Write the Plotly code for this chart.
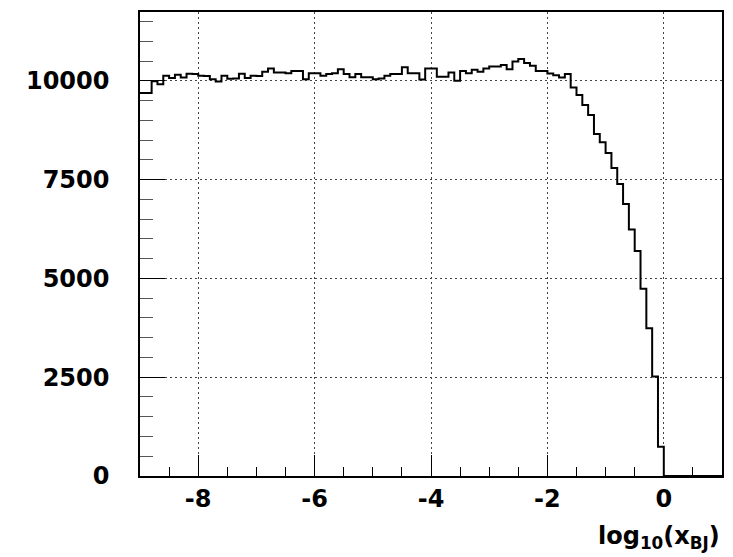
import numpy as np
import plotly.graph_objects as go

# histogram definition
x_min = -9.0
x_max = 1.0
n_bins = 100
counts = [
    9690, 9690, 9990, 9910, 10130, 10070, 10150, 10080, 10180, 10170,
    10130, 10120, 10040, 9980, 10130, 10050, 10060, 10180, 10070, 10130,
    10120, 10230, 10310, 10210, 10210, 10190, 10250, 10250, 10040, 10190,
    10190, 10130, 10170, 10190, 10290, 10170, 10090, 10170, 10090, 10090,
    10040, 10060, 10130, 10170, 10170, 10340, 10190, 10190, 10030, 10310,
    10310, 10100, 10100, 10210, 10000, 10250, 10190, 10280, 10230, 10310,
    10360, 10360, 10400, 10290, 10490, 10550, 10450, 10380, 10250, 10250,
    10185, 10140, 10085, 10170, 9830, 9640, 9390, 9135, 8655, 8445,
    8170, 7790, 7390, 6880, 6240, 5690, 4740, 3740, 2520, 740,
    0, 0, 0, 0, 0, 0, 0, 0, 0, 0,
]
x_ticks = [-8, -6, -4, -2, 0]
y_ticks = [0, 2500, 5000, 7500, 10000]
y_max = 11740

edges = np.linspace(x_min, x_max, n_bins + 1)
ys = list(counts) + [counts[-1]]

fig = go.Figure()
fig.add_trace(go.Scatter(
    x=edges, y=ys, mode="lines", line=dict(shape="hv", color="black", width=2),
    hoverinfo="skip", showlegend=False,
))

FONT = "DejaVu Sans, Liberation Sans, Arial, sans-serif"
font_ticks = dict(family=FONT, size=24, color="black", weight="bold")

# the page body has an 8px margin, so the figure is sized to fit inside it
fig.update_layout(
    width=725, height=549,
    margin=dict(l=132, r=11, t=2, b=81),
    paper_bgcolor="white", plot_bgcolor="white",
    xaxis=dict(
        range=[x_min, x_max], tickvals=x_ticks, ticktext=[str(v) for v in x_ticks],
        ticks="inside", ticklen=21, tickwidth=1.2, tickcolor="black",
        minor=dict(dtick=0.5, tick0=0, ticks="inside", ticklen=9, tickcolor="black", tickwidth=1.2, showgrid=False),
        showline=True, linecolor="black", linewidth=1.5, mirror=True,
        showgrid=True, gridcolor="#444", griddash="2px,3px", gridwidth=1,
        zeroline=False, tickfont=font_ticks, ticklabelstandoff=0,
    ),
    yaxis=dict(
        range=[0, y_max], tickvals=y_ticks, ticktext=[str(v) for v in y_ticks],
        ticks="inside", ticklen=25, tickwidth=1.2, tickcolor="black",
        minor=dict(dtick=500, tick0=0, ticks="inside", ticklen=13, tickcolor="#555", tickwidth=1.2, showgrid=False),
        showline=True, linecolor="black", linewidth=1.5, mirror=True,
        showgrid=True, gridcolor="#444", griddash="2px,3px", gridwidth=1,
        zeroline=False, tickfont=font_ticks, ticklabelstandoff=24,
    ),
    annotations=[dict(
        text="log<sub>10</sub>(x<sub>BJ</sub>)", xref="paper", yref="paper",
        x=1.0, y=-0.095, xanchor="right", yanchor="top", showarrow=False,
        font=dict(family=FONT, size=24, color="black", weight="bold"),
    )],
)

fig.write_html("out.html")
